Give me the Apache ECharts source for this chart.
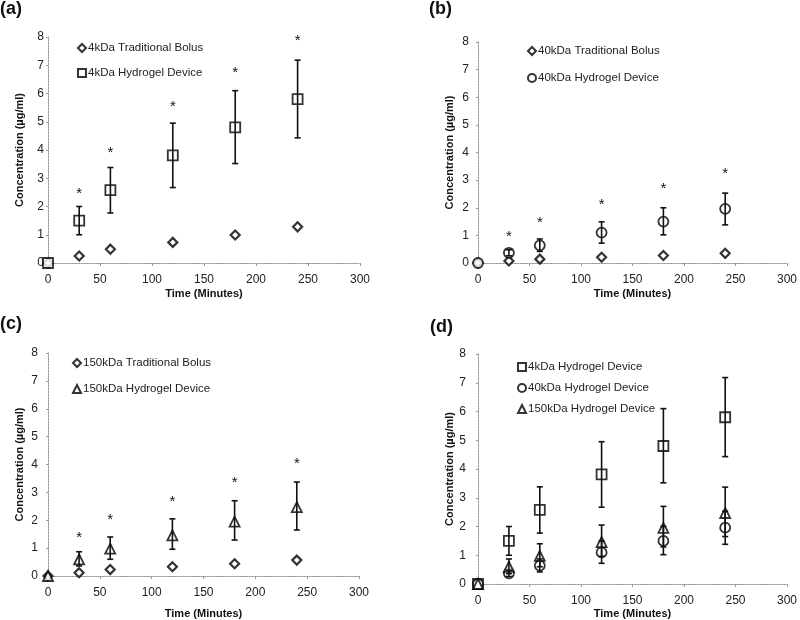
<!DOCTYPE html>
<html>
<head>
<meta charset="utf-8">
<script src="https://cdn.jsdelivr.net/npm/echarts@6/dist/echarts.min.js"></script>
<style>html,body{margin:0;padding:0;background:#fff;}#c{width:800px;height:620px;}</style>
</head>
<body>
<div id="c"></div>
<script>
// ---- data ----
const times = [0, 30, 60, 120, 180, 240];
const xTicks = [0, 50, 100, 150, 200, 250, 300];
const yTicks = [0, 1, 2, 3, 4, 5, 6, 7, 8];

const bolus4 = [0, 0.25, 0.49, 0.73, 0.99, 1.28];
const hydro4 = [0, 1.5, 2.58, 3.81, 4.8, 5.8];
const hydro4Lo = [0, 1.0, 1.77, 2.67, 3.52, 4.43];
const hydro4Hi = [0, 2.0, 3.38, 4.95, 6.1, 7.18];
const star4 = [null, 2.56, 4.02, 5.62, 6.85, 7.96];

const bolus40 = [0, 0.07, 0.14, 0.21, 0.27, 0.35];
const hydro40 = [0, 0.37, 0.64, 1.1, 1.5, 1.96];
const hydro40Lo = [0, 0.26, 0.42, 0.72, 1.02, 1.38];
const hydro40Hi = [0, 0.48, 0.87, 1.49, 2.0, 2.53];
const star40 = [null, 1.05, 1.56, 2.2, 2.79, 3.33];

const bolus150 = [0, 0.12, 0.23, 0.33, 0.44, 0.57];
const hydro150 = [0, 0.6, 0.98, 1.46, 1.95, 2.47];
const hydro150Lo = [0, 0.36, 0.6, 0.96, 1.29, 1.65];
const hydro150Hi = [0, 0.87, 1.4, 2.05, 2.7, 3.37];
const star150 = [null, 1.46, 2.11, 2.78, 3.46, 4.14];

const names = {
  b4: '4kDa Traditional Bolus', h4: '4kDa Hydrogel Device',
  b40: '40kDa Traditional Bolus', h40: '40kDa Hydrogel Device',
  b150: '150kDa Traditional Bolus', h150: '150kDa Hydrogel Device'
};
const panelLabels = ['(a)', '(b)', '(c)', '(d)'];
const xName = 'Time (Minutes)';
const yName = 'Concentration (µg/ml)';

// ---- helpers ----
const FONT = 'Liberation Sans, Arial, sans-serif';
const pts = (vals) => times.map((t, i) => [t, vals[i]]);
const errPts = (lo, hi) => times.map((t, i) => [t, lo[i], hi[i]]).filter(d => d[0] > 0);
const starPts = (s) => times.map((t, i) => [t, s[i]]).filter(d => d[1] != null);

function errRender(params, api) {
  const x = api.value(0), lo = api.value(1), hi = api.value(2);
  const a = api.coord([x, lo]), b = api.coord([x, hi]);
  const w = 3;
  const st = { stroke: '#111', lineWidth: 1.6 };
  return { type: 'group', children: [
    { type: 'line', shape: { x1: a[0], y1: a[1], x2: b[0], y2: b[1] }, style: st },
    { type: 'line', shape: { x1: b[0] - w, y1: b[1], x2: b[0] + w, y2: b[1] }, style: st },
    { type: 'line', shape: { x1: a[0] - w, y1: a[1], x2: a[0] + w, y2: a[1] }, style: st }
  ]};
}
function starRender(params, api) {
  const p = api.coord([api.value(0), api.value(1)]);
  return { type: 'text', x: p[0], y: p[1] + 3,
    style: { text: '*', fontSize: 15, fontFamily: FONT, fill: '#111', align: 'center', verticalAlign: 'middle' } };
}

const markStyle = { color: '#fff', borderColor: '#000', borderWidth: 1.8 };
const diamondStyle = { color: '#fff', borderColor: '#000', borderWidth: 2.2 };

function scatter(name, vals, idx, symbol, size, style) {
  return { type: 'scatter', name, data: pts(vals), xAxisIndex: idx, yAxisIndex: idx,
    symbol, symbolSize: size, itemStyle: style, z: 2 };
}
function errSeries(lo, hi, idx) {
  return { type: 'custom', name: 'err' + idx, data: errPts(lo, hi), xAxisIndex: idx, yAxisIndex: idx,
    renderItem: errRender, z: 3, silent: true };
}
function starSeries(s, idx) {
  return { type: 'custom', name: 'star' + idx, data: starPts(s), xAxisIndex: idx, yAxisIndex: idx,
    renderItem: starRender, z: 3, silent: true };
}

const grids = [
  { left: 48, top: 37, width: 312, height: 226 },
  { left: 478, top: 42, width: 312, height: 221 },
  { left: 48, top: 353, width: 311, height: 224 },
  { left: 478, top: 354, width: 313, height: 230 }
];
const yLabelMargin = [4, 9, 10, 12];
const xNameGap = [25, 25, 32, 24];

const axisLine = { show: true, lineStyle: { color: '#999', width: 1, type: [2, 1] } };
const xAxes = grids.map((g, i) => ({
  type: 'value', gridIndex: i, min: xTicks[0], max: xTicks[xTicks.length - 1], interval: 50,
  axisLine, axisTick: { show: true, length: 3, lineStyle: { color: '#999' } },
  splitLine: { show: false },
  axisLabel: { fontSize: 12, fontFamily: FONT, color: '#222', margin: 11 },
  name: xName, nameLocation: 'middle', nameGap: xNameGap[i],
  nameTextStyle: { fontSize: 11, fontWeight: 'bold', fontFamily: FONT, color: '#111' }
}));
const yAxes = grids.map((g, i) => ({
  type: 'value', gridIndex: i, min: yTicks[0], max: yTicks[yTicks.length - 1], interval: 1,
  axisLine, axisTick: { show: true, length: 2, lineStyle: { color: '#999' } },
  splitLine: { show: false },
  axisLabel: { fontSize: 12, fontFamily: FONT, color: '#222', margin: yLabelMargin[i] },
  name: yName, nameLocation: 'middle', nameGap: 23,
  nameTextStyle: { fontSize: 11, fontWeight: 'bold', fontFamily: FONT, color: '#111' }
}));

const legendBase = { orient: 'vertical', itemWidth: 8, itemHeight: 8, selectedMode: false,
  textStyle: { fontSize: 11.5, fontFamily: FONT, color: '#222', padding: [0, 0, 0, -3] } };
const legends = [
  Object.assign({}, legendBase, { left: 72, top: 37, itemGap: 13, data: [names.b4, names.h4] }),
  Object.assign({}, legendBase, { left: 522, top: 40, itemGap: 15, data: [names.b40, names.h40] }),
  Object.assign({}, legendBase, { left: 67, top: 352, itemGap: 14, data: [names.b150, names.h150] }),
  Object.assign({}, legendBase, { left: 512, top: 356, itemGap: 9, data: [names.h4, names.h40, names.h150] })
];

const series = [
  // (a)
  scatter(names.b4, bolus4, 0, 'diamond', 9, diamondStyle),
  scatter(names.h4, hydro4, 0, 'rect', 10, markStyle),
  errSeries(hydro4Lo, hydro4Hi, 0), starSeries(star4, 0),
  // (b)
  scatter(names.b40, bolus40, 1, 'diamond', 9, diamondStyle),
  scatter(names.h40, hydro40, 1, 'circle', 10, markStyle),
  errSeries(hydro40Lo, hydro40Hi, 1), starSeries(star40, 1),
  // (c)
  scatter(names.b150, bolus150, 2, 'diamond', 9, diamondStyle),
  scatter(names.h150, hydro150, 2, 'triangle', 10, markStyle),
  errSeries(hydro150Lo, hydro150Hi, 2), starSeries(star150, 2),
  // (d)
  scatter(names.h4, hydro4, 3, 'rect', 10, markStyle),
  scatter(names.h40, hydro40, 3, 'circle', 10, markStyle),
  scatter(names.h150, hydro150, 3, 'triangle', 10, markStyle),
  errSeries(hydro4Lo, hydro4Hi, 3), errSeries(hydro40Lo, hydro40Hi, 3), errSeries(hydro150Lo, hydro150Hi, 3)
];

const labelPos = [[0, 0], [429, 0], [0, 315], [430, 318]];
const graphic = panelLabels.map((t, i) => ({
  type: 'text', left: labelPos[i][0], top: labelPos[i][1],
  style: { text: t, fontSize: 18, fontWeight: 'bold', fontFamily: FONT, fill: '#111' }
}));

const chart = echarts.init(document.getElementById('c'), null, { renderer: 'canvas' });
chart.setOption({
  animation: false,
  backgroundColor: '#fff',
  grid: grids,
  xAxis: xAxes,
  yAxis: yAxes,
  legend: legends,
  series,
  graphic
});
</script>
</body>
</html>
